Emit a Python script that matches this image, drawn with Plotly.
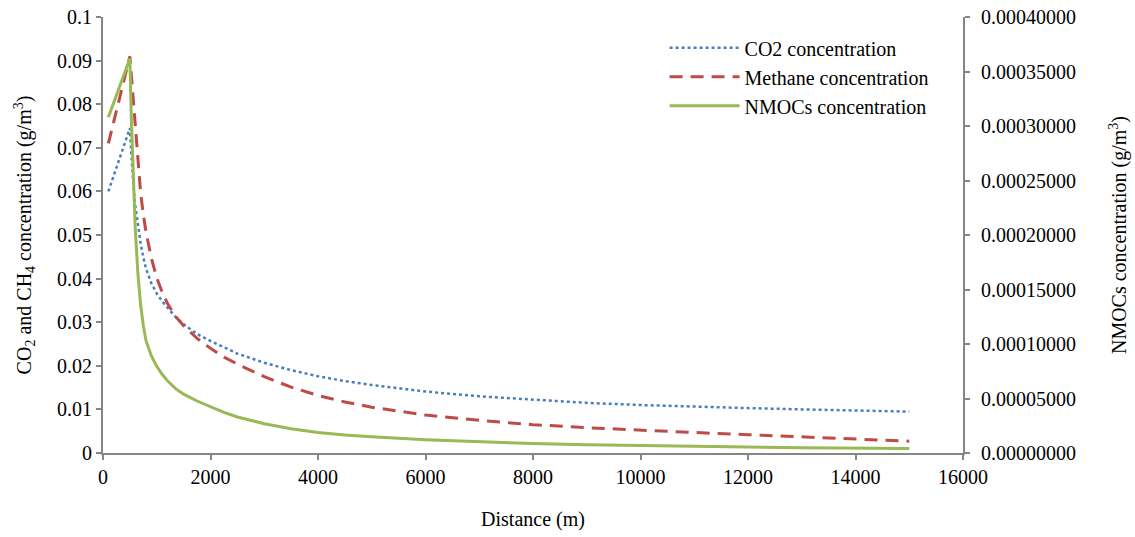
import plotly.graph_objects as go

distance = [100, 500, 525, 550, 575, 600, 650, 700, 750, 800, 900, 1000, 1100, 1200, 1350,
            1500, 1750, 2000, 2250, 2500, 3000, 3500, 4000, 4500, 5000, 6000, 7000, 8000,
            9000, 10000, 11000, 12000, 13000, 14000, 15000]

co2 = [0.060, 0.0745, 0.0690, 0.0640, 0.0600, 0.0568, 0.0520, 0.0481, 0.0449, 0.0423,
       0.0389, 0.0366, 0.0348, 0.0333, 0.0312, 0.0295, 0.0273, 0.0257, 0.0242, 0.0228,
       0.0207, 0.0190, 0.0176, 0.0165, 0.0156, 0.0141, 0.0130, 0.0122, 0.0115, 0.0110,
       0.0106, 0.0103, 0.0100, 0.0097, 0.0095]

methane = [0.071, 0.091, 0.0870, 0.0830, 0.0785, 0.0740, 0.0660, 0.0597, 0.0547, 0.0507,
           0.0447, 0.0402, 0.0369, 0.0343, 0.0313, 0.0292, 0.0263, 0.0240, 0.0220, 0.0204,
           0.0175, 0.0151, 0.0132, 0.0117, 0.0105, 0.0087, 0.0075, 0.0065, 0.0058, 0.0052,
           0.0047, 0.0042, 0.0037, 0.0032, 0.0027]

nmocs = [0.000308, 0.000362, 0.000310, 0.000270, 0.000236, 0.000206, 0.000164, 0.000136,
         0.000117, 0.000103, 0.0000890, 0.0000795, 0.0000722, 0.0000662, 0.0000590,
         0.0000540, 0.0000477, 0.0000424, 0.0000372, 0.0000330, 0.0000269, 0.0000223,
         0.0000189, 0.0000166, 0.0000148, 0.0000121, 0.0000101, 0.0000087, 0.0000076,
         0.0000067, 0.0000060, 0.0000054, 0.0000049, 0.0000045, 0.0000041]

x_ticks = [0, 2000, 4000, 6000, 8000, 10000, 12000, 14000, 16000]

FONT = "Liberation Serif, Times New Roman, serif"
AX = "#868686"

fig = go.Figure()
fig.add_trace(go.Scatter(x=distance, y=co2, mode="lines", name="CO2 concentration",
                         line=dict(color="#4a7ebb", width=2.5, dash="dot")))
fig.add_trace(go.Scatter(x=distance, y=methane, mode="lines", name="Methane concentration",
                         line=dict(color="#be4b48", width=3, dash="13px,8px")))
fig.add_trace(go.Scatter(x=distance, y=nmocs, mode="lines", name="NMOCs concentration",
                         yaxis="y2", line=dict(color="#98b954", width=3)))

fig.update_layout(
    width=1135, height=537,
    margin=dict(l=103, r=172, t=17, b=84, autoexpand=False),
    paper_bgcolor="white", plot_bgcolor="white",
    font=dict(family=FONT, size=20, color="black"),
    showlegend=True,
    legend=dict(x=0.653, y=0.974, xanchor="left", yanchor="top",
                bgcolor="rgba(0,0,0,0)", font=dict(size=20), itemwidth=70,
                tracegroupgap=0),
    xaxis=dict(range=[0, 16000], tickvals=x_ticks, tickformat="d", showgrid=False,
               zeroline=False, automargin=False, ticklabeloverflow="allow",
               showline=True, linecolor=AX, linewidth=2, ticks="outside",
               tickcolor=AX, ticklen=5, tickwidth=1.5,
               title=dict(text="Distance (m)", font=dict(size=20), standoff=25)),
    yaxis=dict(range=[0, 0.1], dtick=0.01, tick0=0, showgrid=False, zeroline=False,
               automargin=False, ticklabeloverflow="allow",
               showline=True, linecolor=AX, linewidth=2, ticks="outside",
               tickcolor=AX, ticklen=5, tickwidth=1.5,
               title=dict(text="CO<sub>2</sub> and CH<sub>4</sub> concentration (g/m<sup>3</sup>)",
                          font=dict(size=20), standoff=20)),
    yaxis2=dict(range=[0, 0.0004], dtick=0.00005, tick0=0, overlaying="y", side="right",
                automargin=False, ticklabeloverflow="allow",
                showgrid=False, zeroline=False, showline=True, linecolor=AX, linewidth=2,
                ticks="outside", tickcolor=AX, ticklen=5, tickwidth=1.5,
                tickformat=".8f", ticklabelstandoff=7,
                title=dict(text="NMOCs concentration (g/m<sup>3</sup>)",
                           font=dict(size=20), standoff=37)),
)

fig.write_html("out.html", config={"displayModeBar": False},
               post_script="document.body.style.margin='0';document.body.style.overflow='hidden';")
